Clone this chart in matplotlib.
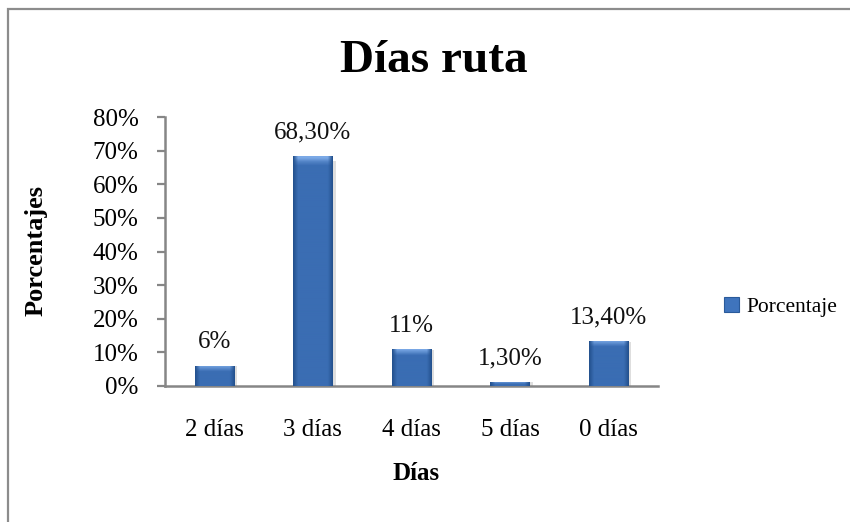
import numpy as np
import matplotlib
matplotlib.use("Agg")
import matplotlib.pyplot as plt
from matplotlib.patches import Rectangle, Patch
from matplotlib.colors import to_rgb

# ---------------------------------------------------------------------------
# Data
# ---------------------------------------------------------------------------
categories = ["2 días", "3 días", "4 días", "5 días", "0 días"]
values = [6.0, 68.3, 11.0, 1.3, 13.4]
value_labels = ["6%", "68,30%", "11%", "1,30%", "13,40%"]
y_ticks = [0, 10, 20, 30, 40, 50, 60, 70, 80]
y_tick_labels = [f"{t}%" for t in y_ticks]

# ---------------------------------------------------------------------------
# Style
# ---------------------------------------------------------------------------
plt.rcParams["font.family"] = ["Liberation Serif", "DejaVu Serif"]
AXIS_CLR = "#868686"
BASE = np.array(to_rgb("#3A6DB3"))
LIGHT = np.array(to_rgb("#7BA9E6"))
DARK = np.array(to_rgb("#24528F"))

fig = plt.figure(figsize=(8.5, 5.22), dpi=100)
fig.patch.set_facecolor("white")
ax = fig.add_axes([165 / 850, 1 - 386 / 522, 493 / 850, 269 / 522])

# outer chart border (runs off right and bottom edges)
fig.patches.append(Rectangle((8 / 850, -0.2), 1.2, 1.2 - 9 / 522,
                             transform=fig.transFigure, fill=False,
                             edgecolor="#8C8C8C", linewidth=1.6, zorder=0))

x = np.arange(len(categories))
bars = ax.bar(x, values, width=0.4, color="#3A6DB3", edgecolor="none", zorder=2)

# gradient/bevel look inside each bar
ny, nx = 60, 40
u = np.linspace(0, 1, nx)
side = np.clip(np.minimum(u, 1 - u) / 0.12, 0, 1)  # 0 at edge -> 1 inside
for b in bars:
    h = b.get_height()
    bev = min(1.8, h * 0.6)  # bevel height, data units
    yy = np.linspace(h, 0, ny)  # top row first
    img = np.zeros((ny, nx, 3))
    for i, yv in enumerate(yy):
        t_top = np.clip((h - yv) / bev, 0, 1)
        row_col = LIGHT * (1 - t_top) + BASE * t_top
        img[i] = DARK[None, :] * (1 - side[:, None]) + row_col[None, :] * side[:, None]
    x0 = b.get_x()
    w = b.get_width()
    im = ax.imshow(img, extent=(x0, x0 + w, 0, h), aspect="auto",
                   interpolation="bilinear", zorder=3)
    im.set_clip_path(b)
    # faint shadow to the right
    ax.add_patch(Rectangle((x0 + w, 0), 0.03, h * 0.98, facecolor="#BFBFBF",
                           edgecolor="none", alpha=0.5, zorder=1))

for b, lab in zip(bars, value_labels):
    ax.annotate(lab, (b.get_x() + b.get_width() / 2, b.get_height()),
                xytext=(0, 9), textcoords="offset points",
                ha="center", va="bottom", fontsize=18, color="#111111")

ax.set_xlim(-0.5, 4.5)
ax.set_ylim(0, 80)
ax.set_yticks(y_ticks)
ax.set_yticklabels(y_tick_labels)
ax.set_xticks(x)
ax.set_xticklabels(categories)

for s in ["top", "right"]:
    ax.spines[s].set_visible(False)
for s in ["left", "bottom"]:
    ax.spines[s].set_color(AXIS_CLR)
    ax.spines[s].set_linewidth(1.8)
ax.tick_params(axis="y", length=6, width=1.6, color=AXIS_CLR, pad=13,
               labelsize=18)
ax.tick_params(axis="x", length=0, pad=24, labelsize=18)

# titles
fig.text(434 / 850, 1 - 61 / 522, "Días ruta", ha="center", va="center",
         fontsize=34, fontweight="bold")
fig.text(36 / 850, 1 - 250 / 522, "Porcentajes", ha="center", va="center",
         rotation=90, fontsize=19, fontweight="bold")
fig.text(416 / 850, 1 - 474 / 522, "Días", ha="center", va="center",
         fontsize=18, fontweight="bold")

# legend
handle = Patch(facecolor="#3F74BD", edgecolor="#2A5A9A", linewidth=0.8)
fig.legend([handle], ["Porcentaje"], loc="center left",
           bbox_to_anchor=(724 / 850, 1 - 307 / 522), frameon=False,
           fontsize=15.5, handlelength=0.7, handleheight=0.7,
           handletextpad=0.35, borderaxespad=0, borderpad=0)

fig.savefig("out.png", dpi=100, facecolor="white")
